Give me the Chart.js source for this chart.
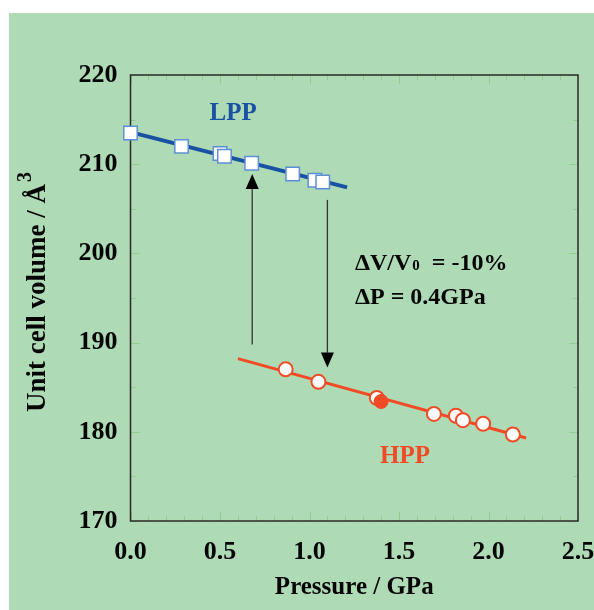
<!DOCTYPE html>
<html><head><meta charset="utf-8">
<script src="https://cdn.jsdelivr.net/npm/chart.js@4/dist/chart.umd.min.js"></script>
<style>html,body{margin:0;padding:0;background:#fff;} #wrap{width:594px;height:610px;position:relative}</style>
</head><body><div id="wrap"><canvas id="c" width="594" height="610"></canvas></div>
<script>
// ---- data ----
const lppPressure = [0.00, 0.285, 0.50, 0.525, 0.677, 0.906, 1.03, 1.074];
const lppVolume   = [213.5, 212.0, 211.2, 210.9, 210.1, 208.9, 208.2, 208.0];
const lppFitP = [0.0, 1.21];
const lppFitV = [213.6, 207.4];
const hppPressure = [0.867, 1.05, 1.376, 1.695, 1.818, 1.857, 1.97, 2.136];
const hppVolume   = [187.0, 185.6, 183.8, 182.0, 181.8, 181.3, 180.9, 179.7];
const hppFilledP = [1.40];
const hppFilledV = [183.4];
const hppFitP = [0.6, 2.21];
const hppFitV = [188.2, 179.3];
const arrowP    = [0.68, 1.10];
const arrowFrom = [189.8, 206.0];
const arrowTo   = [208.9, 187.2];
const xTicks = [0.0, 0.5, 1.0, 1.5, 2.0, 2.5];
const yTicks = [170, 180, 190, 200, 210, 220];

const SERIF = '"Liberation Serif", "Times New Roman", serif';
const BLUE = '#1a52a3', RED = '#f04b25', INK = '#050505';
const pts = (xs, ys) => xs.map((x, i) => ({x, y: ys[i]}));

const bgPlugin = {
  id: 'bg',
  beforeDraw(chart) {
    const {ctx, width, height} = chart;
    ctx.save();
    ctx.fillStyle = '#fff'; ctx.fillRect(0, 0, width, height);
    ctx.fillStyle = '#afdab6'; ctx.fillRect(9, 13, width - 9, height - 13);
    ctx.restore();
  },
  beforeDatasetsDraw(chart) {
    const {ctx, chartArea: a, scales: {x, y}} = chart;
    ctx.save();
    ctx.strokeStyle = '#8ccf8e'; ctx.lineWidth = 1;
    for (let i = 0; i <= 25; i++) {
      const v = i / 10, px = Math.round(x.getPixelForValue(v)) + 0.5;
      const L = (i % 5 === 0) ? 9 : 5;
      ctx.beginPath(); ctx.moveTo(px, a.bottom); ctx.lineTo(px, a.bottom - L);
      ctx.moveTo(px, a.top); ctx.lineTo(px, a.top + L); ctx.stroke();
    }
    for (let v = 170; v <= 220; v += 5) {
      const py = Math.round(y.getPixelForValue(v)) + 0.5;
      const L = (v % 10 === 0) ? 9 : 5;
      ctx.beginPath(); ctx.moveTo(a.left, py); ctx.lineTo(a.left + L, py);
      ctx.moveTo(a.right, py); ctx.lineTo(a.right - L, py); ctx.stroke();
    }
    // frame
    ctx.strokeStyle = '#2a2a2a'; ctx.lineWidth = 1.5;
    ctx.strokeRect(a.left, a.top, a.right - a.left, a.bottom - a.top);
    // arrows
    ctx.strokeStyle = '#333'; ctx.fillStyle = '#000'; ctx.lineWidth = 1.3;
    arrowP.forEach((p, i) => {
      const px = x.getPixelForValue(p);
      const y0 = y.getPixelForValue(arrowFrom[i]), y1 = y.getPixelForValue(arrowTo[i]);
      const dir = y1 < y0 ? -1 : 1, head = 15, hw = 6.5;
      ctx.beginPath(); ctx.moveTo(px, y0); ctx.lineTo(px, y1 - dir * head); ctx.stroke();
      ctx.beginPath(); ctx.moveTo(px, y1); ctx.lineTo(px - hw, y1 - dir * head);
      ctx.lineTo(px + hw, y1 - dir * head); ctx.closePath(); ctx.fill();
    });
    ctx.restore();
  },
  afterDatasetsDraw(chart) {
    const {ctx, chartArea: a, scales: {x, y}} = chart;
    ctx.save();
    ctx.textBaseline = 'middle';
    ctx.font = 'bold 25px ' + SERIF;
    ctx.textAlign = 'center';
    ctx.fillStyle = BLUE; ctx.fillText('LPP', x.getPixelForValue(0.573), y.getPixelForValue(215.7));
    ctx.fillStyle = RED; ctx.fillText('HPP', x.getPixelForValue(1.534), y.getPixelForValue(177.2));
    ctx.fillStyle = INK; ctx.textAlign = 'left'; ctx.textBaseline = 'alphabetic';
    let tx = x.getPixelForValue(1.254);
    const b1 = y.getPixelForValue(199.0) + 8, b2 = y.getPixelForValue(195.2) + 8;
    ctx.font = 'bold 24px ' + SERIF;
    ctx.fillText('\u0394V/V', tx, b1);
    let w = ctx.measureText('\u0394V/V').width;
    ctx.font = 'bold 15px ' + SERIF;
    ctx.fillText('0', tx + w + 1, b1);
    w += ctx.measureText('0').width + 1;
    ctx.font = 'bold 24px ' + SERIF;
    ctx.fillText('  = -10%', tx + w, b1);
    ctx.fillText('\u0394P = 0.4GPa', tx, b2);
    // y axis title with superscript
    const main = 'Unit cell volume / \u00c5', sup = '3';
    ctx.font = 'bold 27px ' + SERIF;
    const wm = ctx.measureText(main).width;
    ctx.font = 'bold 20px ' + SERIF;
    const ws = ctx.measureText(sup).width;
    const total = wm + ws + 2;
    const cy = (a.top + a.bottom) / 2 - 6;
    ctx.translate(45, cy);
    ctx.rotate(-Math.PI / 2);
    ctx.font = 'bold 27px ' + SERIF;
    ctx.fillText(main, -total / 2, 0);
    ctx.font = 'bold 20px ' + SERIF;
    ctx.fillText(sup, -total / 2 + wm + 2, -14);
    ctx.restore();
  }
};

new Chart(document.getElementById('c'), {
  type: 'scatter',
  data: {
    datasets: [
      {label: 'LPP fit', data: pts(lppFitP, lppFitV), showLine: true, borderColor: BLUE, borderWidth: 4, pointRadius: 0, order: 4},
      {label: 'HPP fit', data: pts(hppFitP, hppFitV), showLine: true, borderColor: RED, borderWidth: 3, pointRadius: 0, order: 3},
      {label: 'LPP', data: pts(lppPressure, lppVolume), pointStyle: 'rect', pointRadius: 9.5, backgroundColor: '#fff', borderColor: '#5d8fd4', borderWidth: 1.5, order: 2, clip: false},
      {label: 'HPP', data: pts(hppPressure, hppVolume), pointStyle: 'circle', pointRadius: 7, backgroundColor: '#fff', borderColor: RED, borderWidth: 2, order: 1, clip: false},
      {label: 'HPP filled', data: pts(hppFilledP, hppFilledV), pointStyle: 'circle', pointRadius: 7, backgroundColor: RED, borderColor: RED, borderWidth: 1, order: 0, clip: false}
    ]
  },
  options: {
    responsive: false, animation: false,
    layout: {padding: {left: 0, top: 75, right: 16, bottom: 0}},
    plugins: {legend: {display: false}, tooltip: {enabled: false}},
    scales: {
      x: {
        type: 'linear', min: 0, max: 2.5,
        afterBuildTicks: s => { s.ticks = xTicks.map(v => ({value: v})); },
        afterFit: s => { s.height = 89; s.paddingLeft = 0; s.paddingRight = 0; },
        grid: {display: false, drawTicks: false},
        border: {display: false},
        ticks: {color: INK, padding: 16, font: {family: SERIF, size: 26, weight: 'bold'}, callback: v => v.toFixed(1), maxRotation: 0, autoSkip: false},
        title: {display: true, text: 'Pressure / GPa', color: INK, font: {family: SERIF, size: 25, weight: 'bold'}, padding: {top: 0, bottom: 7}}
      },
      y: {
        type: 'linear', min: 170, max: 220,
        afterBuildTicks: s => { s.ticks = yTicks.map(v => ({value: v})); },
        afterFit: s => { s.width = 130.5; s.paddingTop = 0; s.paddingBottom = 0; },
        grid: {display: false, drawTicks: false},
        border: {display: false},
        ticks: {color: INK, padding: 13, font: {family: SERIF, size: 26, weight: 'bold'}, autoSkip: false},
        title: {display: false, text: 'Unit cell volume / \u00c5\u00b3'}
      }
    }
  },
  plugins: [bgPlugin]
});
</script></body></html>
